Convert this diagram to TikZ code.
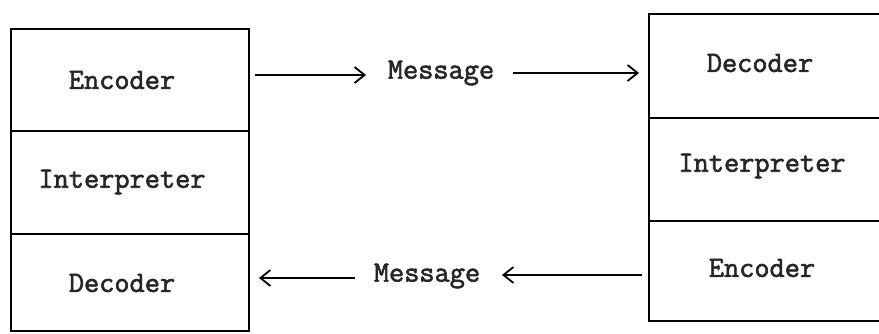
\documentclass[tikz,border=0pt]{standalone}
\usepackage{fontspec}
\setmonofont[FakeBold=2]{Latin Modern Mono}
\usetikzlibrary{arrows.meta}
\begin{document}
\begin{tikzpicture}[x=1pt,y=-1pt,
  cell/.style={draw,line width=1.6pt,minimum width=238pt,inner sep=0pt,anchor=north west},
  lbl/.style={font=\ttfamily\fontsize{29.5}{32}\selectfont,inner sep=0pt,text=black!85},
  msg/.style={lbl,inner xsep=0pt},
  arr/.style={line width=1.6pt,-{Straight Barb[length=10pt,width=16pt,line width=1.8pt]}}]
\clip (0,0) rectangle (879,334);
\fill[white] (0,0) rectangle (879,334);
% left stack
\node[cell,minimum height=102pt] (L1) at (10,28) {};
\node[cell,minimum height=103pt] (L2) at (10,130) {};
\node[cell,minimum height=97pt] (L3) at (10,233) {};
% right stack (right edge beyond the picture)
\node[cell,minimum width=260pt,minimum height=104pt] (R1) at (648,13) {};
\node[cell,minimum width=260pt,minimum height=103pt] (R2) at (648,117) {};
\node[cell,minimum width=260pt,minimum height=100pt] (R3) at (648,220) {};
% labels
\node[lbl] (tL1) at (122,80) {Encoder};
\node[lbl] (tL2) at (122,182) {Interpreter};
\node[lbl] (tL3) at (122,283) {Decoder};
\node[lbl] (tR1) at (760,63) {Decoder};
\node[lbl] (tR2) at (762,166) {Interpreter};
\node[lbl] (tR3) at (762,268) {Encoder};
% messages
\node[msg] (mT) at (441,73) {Message};
\node[msg] (mB) at (427,276) {Message};
\coordinate (a1) at (255,75);
\coordinate (a2) at (366,75);
\coordinate (a3) at (513,73);
\coordinate (a4) at (639,73);
\coordinate (b1) at (642,275);
\coordinate (b2) at (502,275);
\coordinate (b3) at (355,278);
\coordinate (b4) at (259,278);
\draw[arr] (a1) -- (a2);
\draw[arr] (a3) -- (a4);
\draw[arr] (b1) -- (b2);
\draw[arr] (b3) -- (b4);
\end{tikzpicture}
\end{document}
